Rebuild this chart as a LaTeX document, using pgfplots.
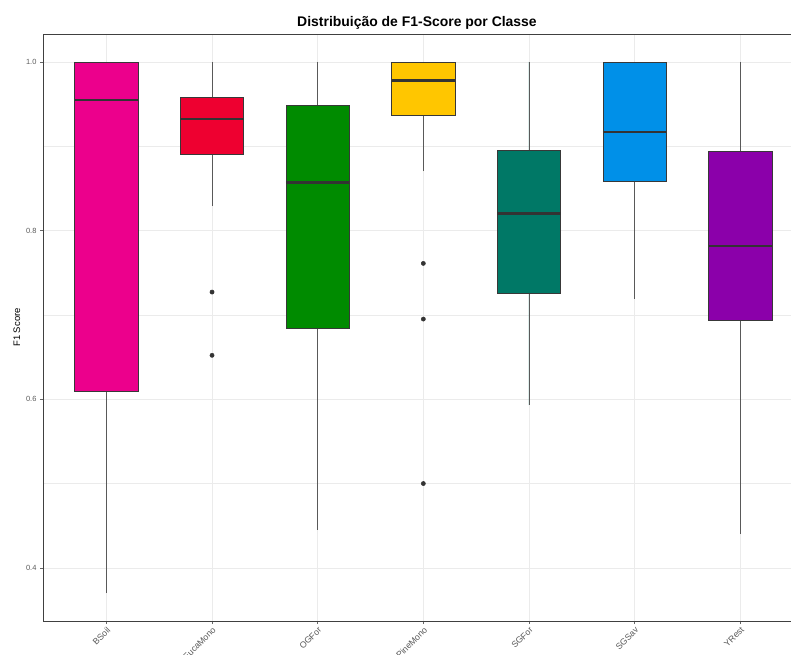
\documentclass[border=0pt]{standalone}
\usepackage{fontspec}
\setmainfont{Liberation Sans}
\usepackage{pgfplots}
\usepgfplotslibrary{statistics}
\pgfplotsset{compat=1.18}
\definecolor{cBSoil}{HTML}{EC008C}
\definecolor{cEuca}{HTML}{EE0030}
\definecolor{cOGFor}{HTML}{008B00}
\definecolor{cPine}{HTML}{FFC600}
\definecolor{cSGFor}{HTML}{007866}
\definecolor{cSGSav}{HTML}{0090E8}
\definecolor{cYRest}{HTML}{8B00AA}
\definecolor{cgrid}{HTML}{EBEBEB}
\pgfplotsset{
  bx/.style={
    solid, draw=black!78, line width=0.5bp,
    mark=*, mark size=2.1bp, mark options={solid, fill=black!80, draw=black!80},
    boxplot/draw direction=y,
    boxplot/box extend=0.6, boxplot/whisker extend=0,
    boxplot/every median/.style={solid, draw=black!80, line width=2.3bp},
    boxplot/every box/.style={solid, draw=black!78, line width=0.5bp},
    boxplot/every whisker/.style={solid, draw=black!65, line width=0.6bp},
  },
}
\begin{document}
\begin{tikzpicture}
\begin{axis}[
  scale only axis, width=748bp, height=587bp,
  xmin=0.4, xmax=7.48, ymin=0.337, ymax=1.033,
  xtick={1,2,3,4,5,6,7},
  xticklabels={BSoil,EucaMono,OGFor,PineMono,SGFor,SGSav,YRest},
  x tick label style={rotate=45, anchor=north east, font=\fontsize{8.8}{10}\selectfont, text=black!65, inner sep=1.5bp},
  ytick={0.4,0.6,0.8,1.0}, minor ytick={0.5,0.7,0.9},
  yticklabels={0.4,0.6,0.8,1.0},
  y tick label style={font=\fontsize{7.5}{8}\selectfont, text=black!65},
  grid=both, major grid style={draw=cgrid, line width=0.6bp}, minor grid style={draw=cgrid, line width=0.4bp},
  axis line style={draw=black!75, line width=0.7bp},
  tick style={draw=black!60, line width=0.5bp}, major tick length=3bp, minor tick length=0pt,
  tick align=outside, xtick pos=bottom, ytick pos=left,
  title={\bfseries Distribuição de F1-Score por Classe},
  title style={font=\fontsize{14}{16}\selectfont, yshift=-5bp},
  ylabel={F1 Score}, ylabel style={font=\fontsize{9.5}{11}\selectfont, yshift=-1bp},
]
\addplot[bx, fill=cBSoil,
  boxplot prepared={draw position=1, median=0.955, upper quartile=1.0, lower quartile=0.609, upper whisker=1.0, lower whisker=0.370}] coordinates {};
\addplot[bx, fill=cEuca,
  boxplot prepared={draw position=2, median=0.932, upper quartile=0.958, lower quartile=0.891, upper whisker=1.0, lower whisker=0.829}] table[row sep=\\, y index=0] {0.727\\ 0.652\\};
\addplot[bx, fill=cOGFor,
  boxplot prepared={draw position=3, median=0.857, upper quartile=0.948, lower quartile=0.684, upper whisker=1.0, lower whisker=0.445}] coordinates {};
\addplot[bx, fill=cPine,
  boxplot prepared={draw position=4, median=0.978, upper quartile=1.0, lower quartile=0.937, upper whisker=1.0, lower whisker=0.870}] table[row sep=\\, y index=0] {0.761\\ 0.695\\ 0.500\\};
\addplot[bx, fill=cSGFor,
  boxplot prepared={draw position=5, median=0.820, upper quartile=0.895, lower quartile=0.726, upper whisker=1.0, lower whisker=0.593}] coordinates {};
\addplot[bx, fill=cSGSav,
  boxplot prepared={draw position=6, median=0.917, upper quartile=1.0, lower quartile=0.858, upper whisker=1.0, lower whisker=0.719}] coordinates {};
\addplot[bx, fill=cYRest,
  boxplot prepared={draw position=7, median=0.782, upper quartile=0.894, lower quartile=0.693, upper whisker=1.0, lower whisker=0.440}] coordinates {};
\end{axis}
\pgfresetboundingbox
\path[use as bounding box] (current axis.south west) ++(-43bp,-34bp) rectangle ++(791bp,655bp);
\end{tikzpicture}
\end{document}
